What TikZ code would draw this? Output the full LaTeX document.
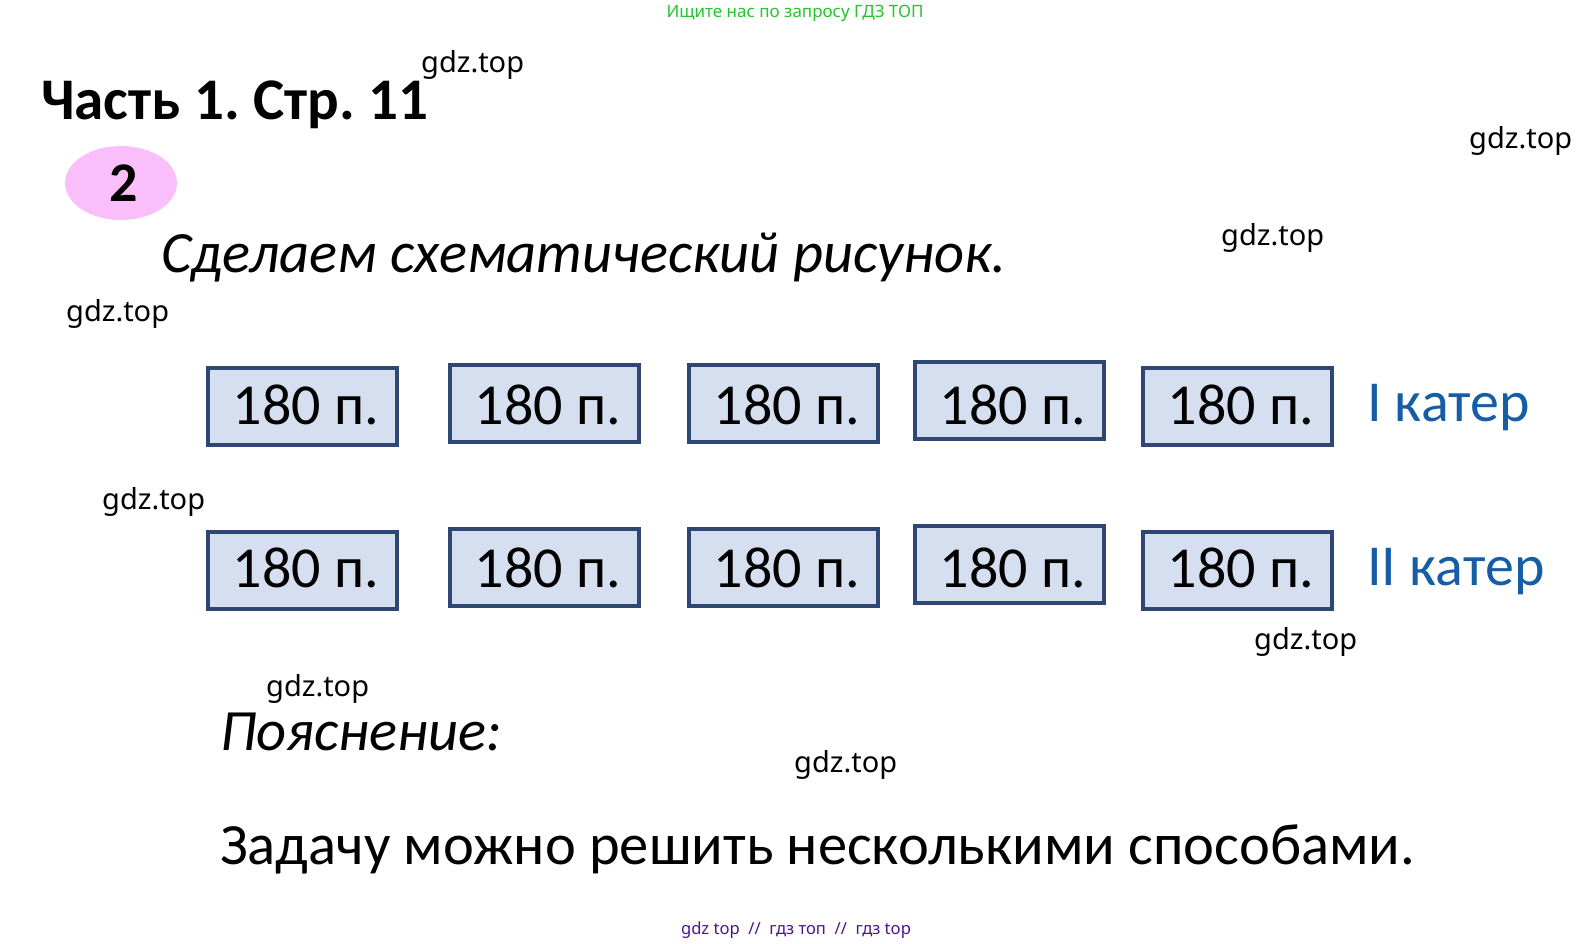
\documentclass[tikz,border=0pt]{standalone}
\usepackage{fontspec}
\setmainfont{Carlito}
\newfontfamily\wmfont{Noto Sans}
\usetikzlibrary{shapes.geometric}
\frenchspacing

\definecolor{cellfill}{RGB}{213,223,239}
\definecolor{celledge}{RGB}{46,72,115}
\definecolor{boatblue}{RGB}{22,93,168}
\definecolor{badge}{RGB}{250,190,250}
\definecolor{topgreen}{RGB}{34,197,46}
\definecolor{botpurple}{RGB}{75,20,140}

\tikzset{
    cell/.style={draw=celledge, fill=cellfill, line width=4pt,
        minimum width=189pt, minimum height=77pt, inner sep=0pt},
    amount/.style={inner sep=0pt, font=\fontsize{58}{58}\selectfont},
    boat/.style={anchor=west, inner sep=0pt, text=boatblue, font=\fontsize{58}{58}\selectfont},
    wm/.style={anchor=west, inner sep=0pt, font=\wmfont\fontsize{29}{29}\selectfont},
    txt/.style={anchor=base west, inner sep=0pt}
}

\begin{document}
\begin{tikzpicture}[x=1pt,y=-1pt]
    \useasboundingbox (0,0) rectangle (1592,943);
    % header
    \node[anchor=center, inner sep=0pt, text=topgreen,
        font=\wmfont\fontsize{17}{17}\selectfont] (search) at (795,13) {Ищите нас по запросу ГДЗ ТОП};
    \node[txt, font=\fontsize{59}{59}\selectfont\bfseries] (title) at (41,119) {Часть 1. Стр. 11};
    \node[ellipse, fill=badge, minimum width=112pt, minimum height=74pt, inner sep=0pt,
        font=\fontsize{56}{56}\selectfont\bfseries] (num) at (121,183) {\hspace*{5pt}2};
    \node[txt, font=\fontsize{58.5}{58.5}\selectfont\itshape] (task) at (161,272) {Сделаем схематический рисунок.};

    % first boat
    \foreach \i/\x/\y in {1/302/406, 2/544/403, 3/783/403, 4/1009/400, 5/1237/406}{
        \node[cell] (a\i) at (\x,\y) {};
        \node[amount] (ta\i) at (\x+4,405) {180 п.};
    }
    \node[boat] (boatA) at (1367,408) {I катер};

    % second boat
    \foreach \i/\x/\y in {1/302/570, 2/544/567, 3/783/567, 4/1009/564, 5/1237/570}{
        \node[cell] (b\i) at (\x,\y) {};
        \node[amount] (tb\i) at (\x+4,568) {180 п.};
    }
    \node[boat] (boatB) at (1367,572) {II катер};

    % explanation
    \node[txt, font=\fontsize{58.5}{58.5}\selectfont\itshape] (expl) at (220,750) {Пояснение:};
    \node[txt, font=\fontsize{58.5}{58.5}\selectfont] (ways) at (220,864) {Задачу можно решить несколькими способами.};

    % watermarks
    \node[wm] (w1) at (421,65) {gdz.top};
    \node[wm] (w2) at (1469,141) {gdz.top};
    \node[wm] (w3) at (1221,238) {gdz.top};
    \node[wm] (w4) at (66,314) {gdz.top};
    \node[wm] (w5) at (102,502) {gdz.top};
    \node[wm] (w6) at (1254,642) {gdz.top};
    \node[wm] (w7) at (266,689) {gdz.top};
    \node[wm] (w8) at (794,765) {gdz.top};
    \node[anchor=center, inner sep=0pt, text=botpurple,
        font=\wmfont\fontsize{16.6}{16.6}\selectfont] (foot) at (796,930) {gdz top \ // \ гдз топ \ // \ гдз top};
\end{tikzpicture}
\end{document}
